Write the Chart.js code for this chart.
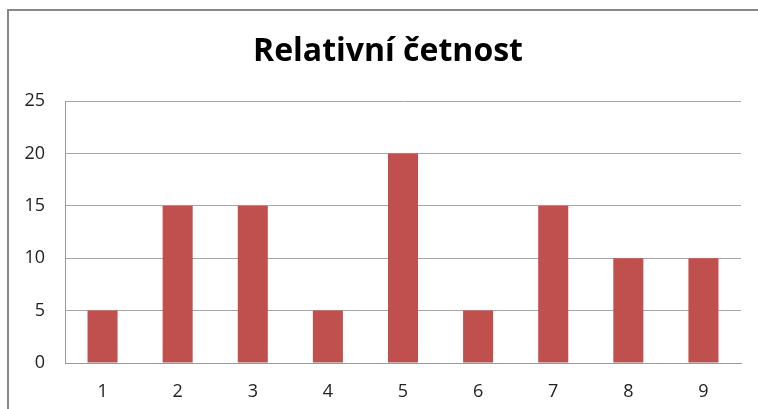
<!DOCTYPE html>
<html>
<head>
<meta charset="utf-8">
<script src="https://cdn.jsdelivr.net/npm/chart.js@4/dist/chart.umd.min.js"></script>
<style>
  html, body { margin: 0; padding: 0; background: #fff; overflow: hidden; }
  #frame {
    position: absolute; left: 7px; top: 9px; width: 800px; height: 450px;
    border: 2px solid #888;
  }
  #wrap { position: absolute; left: 0; top: 0; width: 758px; height: 409px; }
</style>
</head>
<body>
<div id="frame"></div>
<div id="wrap"><canvas id="chart"></canvas></div>
<script>
const categories = ["1", "2", "3", "4", "5", "6", "7", "8", "9"];
const values = [5, 15, 15, 5, 20, 5, 15, 10, 10];
const yTicks = [0, 5, 10, 15, 20, 25];

const ctx = document.getElementById("chart").getContext("2d");
new Chart(ctx, {
    type: "bar",
    data: {
        labels: categories,
        datasets: [{
            label: "Relativní četnost",
            data: values,
            backgroundColor: "#C0504D",
            borderWidth: 0,
            barPercentage: 0.4,
            categoryPercentage: 1
        }]
    },
    options: {
        responsive: true,
        maintainAspectRatio: false,
        animation: false,
        layout: { padding: { left: 18, right: 0, top: 0, bottom: 0 } },
        plugins: {
            legend: { display: false },
            tooltip: { enabled: false },
            title: {
                display: true,
                text: "Relativní četnost",
                color: "#000",
                font: { family: "Open Sans", size: 32, weight: "bold", lineHeight: 1.2 },
                padding: { top: 33, bottom: 29.6 }
            }
        },
        scales: {
            x: {
                grid: { display: false, drawTicks: false },
                border: { color: "#999", width: 1 },
                ticks: {
                    color: "#222",
                    font: { family: "Open Sans", size: 18 },
                    padding: 18
                },
                afterFit: function (scale) { scale.height = 46; }
            },
            y: {
                min: 0,
                max: 25,
                afterBuildTicks: function (scale) {
                    scale.ticks = yTicks.map(v => ({ value: v }));
                },
                grid: { color: "#a6a6a6", drawTicks: false },
                border: { color: "#999", width: 1 },
                ticks: {
                    color: "#222",
                    font: { family: "Open Sans", size: 18 },
                    padding: 20
                },
                afterFit: function (scale) { scale.width = 47; }
            },
            // empty spacer on the right so the plot ends where the reference does
            yRight: {
                position: "right",
                min: 0,
                max: 25,
                grid: { display: false, drawTicks: false },
                border: { display: false },
                ticks: { display: false },
                afterFit: function (scale) { scale.width = 17; }
            }
        }
    }
});
</script>
</body>
</html>
